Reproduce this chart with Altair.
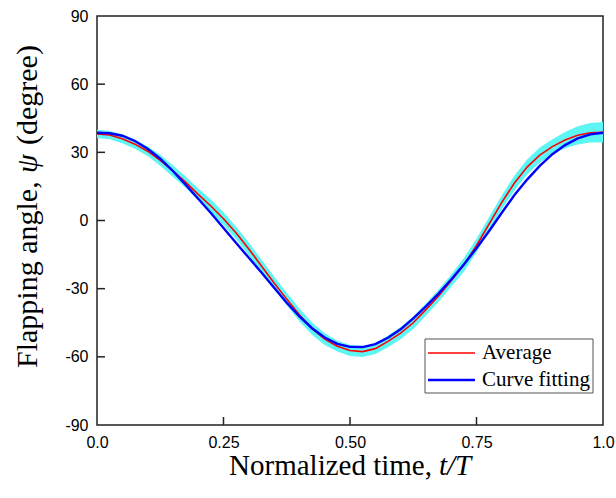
import altair as alt
import pandas as pd

# ---- data ----
T_GRID = [0.0, 0.025, 0.05, 0.075, 0.10, 0.125, 0.15, 0.175, 0.20, 0.225,
          0.25, 0.275, 0.30, 0.325, 0.35, 0.375, 0.40, 0.425, 0.45, 0.475,
          0.50, 0.525, 0.55, 0.575, 0.60, 0.625, 0.65, 0.675, 0.70, 0.725,
          0.75, 0.775, 0.80, 0.825, 0.85, 0.875, 0.90, 0.925, 0.95, 0.975, 1.0]

AVERAGE = [38.1, 37.6, 36.0, 33.6, 30.5, 26.5, 21.8, 16.9, 11.5, 6.4,
           0.8, -5.5, -12.5, -20.0, -27.5, -34.6, -41.5, -47.6, -52.2, -55.3,
           -57.2, -57.7, -56.4, -53.2, -49.6, -45.0, -39.2, -33.2, -26.5, -19.5,
           -11.0, -1.5, 8.0, 16.5, 23.5, 28.8, 32.5, 35.4, 37.5, 38.6, 38.8]

BAND_LOW = [36.3, 35.8, 34.0, 31.6, 28.4, 24.1, 19.3, 14.4, 8.9, 3.6,
            -2.0, -8.3, -15.3, -22.8, -30.3, -37.4, -44.3, -50.3, -54.8, -57.7,
            -59.6, -60.1, -58.8, -55.8, -52.3, -47.7, -41.9, -35.9, -29.2, -22.5,
            -14.0, -4.5, 5.0, 13.2, 20.2, 25.5, 29.2, 31.8, 33.5, 34.3, 34.3]

BAND_HIGH = [39.9, 39.4, 38.0, 35.6, 32.6, 28.9, 24.3, 19.4, 14.1, 9.2,
             3.6, -2.7, -9.7, -17.2, -24.7, -31.8, -38.7, -44.9, -49.6, -52.9,
             -54.8, -55.3, -54.0, -50.6, -46.9, -42.3, -36.5, -30.5, -23.8, -16.5,
             -8.0, 1.5, 11.0, 19.8, 26.8, 32.1, 35.8, 39.0, 41.5, 42.9, 43.3]

FITTING = [38.6, 38.4, 37.3, 35.0, 31.6, 27.2, 21.8, 15.8, 9.6, 3.3,
           -3.3, -9.9, -16.4, -22.9, -29.6, -36.2, -42.2, -47.4, -51.5, -54.3,
           -55.6, -55.7, -54.4, -51.6, -47.9, -43.1, -37.8, -32.2, -26.0, -19.4,
           -12.2, -4.6, 3.4, 11.2, 18.0, 24.0, 29.2, 33.2, 36.1, 37.9, 38.6]

SERIES = ["Average", "Curve fitting"]
SERIES_COLORS = ["#ff0000", "#0000ff"]
BAND_COLOR = "#5ef5f5"

Y_TICKS = [-90, -60, -30, 0, 30, 60, 90]
X_TICKS = [0.0, 0.25, 0.5, 0.75, 1.0]
Y_INNER_TICKS = [-60, -30, 0, 30, 60]
X_INNER_TICKS = [0.25, 0.5, 0.75]

X_TITLE_MAIN = "Normalized time,"
X_TITLE_ITAL = "t/T"
Y_TITLE_A = "Flapping angle,"
Y_TITLE_B = "\u03c8"
Y_TITLE_C = "(degree)"

W, H = 506, 409
SERIF = "Liberation Serif"
SANS = "Liberation Sans"

band_df = pd.DataFrame({"t": T_GRID, "lo": BAND_LOW, "hi": BAND_HIGH})
avg_df = pd.DataFrame({"t": T_GRID, "v": AVERAGE})
fit_df = pd.DataFrame({"t": T_GRID, "v": FITTING})

xscale = alt.Scale(domain=[0, 1], nice=False, zero=False)
yscale = alt.Scale(domain=[-90, 90], nice=False, zero=False)

x_axis = alt.Axis(values=X_TICKS, ticks=False, tickSize=0, domain=False, grid=False,
                  labelFont=SANS, labelFontSize=16, labelColor="#000",
                  labelPadding=9, labelFlush=False, labelOverlap=False,
                  labelExpr="datum.value == 0 ? '0.0' : datum.value == 1 ? '1.0' : format(datum.value, '.2f')",
                  title=None)
y_axis = alt.Axis(values=Y_TICKS, ticks=False, tickSize=0, domain=False, grid=False,
                  labelFont=SANS, labelFontSize=16, labelColor="#000",
                  labelPadding=9, labelFlush=False, labelOverlap=False,
                  labelExpr="'' + datum.value",
                  title=None)

band = alt.Chart(band_df).mark_area(color=BAND_COLOR, opacity=1, clip=True).encode(
    x=alt.X("t:Q", scale=xscale, axis=x_axis),
    y=alt.Y("lo:Q", scale=yscale, axis=y_axis),
    y2="hi:Q",
)

avg_line = alt.Chart(avg_df).mark_line(color=SERIES_COLORS[0], strokeWidth=1.6, clip=True).encode(
    x=alt.X("t:Q", scale=xscale),
    y=alt.Y("v:Q", scale=yscale),
)

fit_line = alt.Chart(fit_df).mark_line(color=SERIES_COLORS[1], strokeWidth=2.4, clip=True).encode(
    x=alt.X("t:Q", scale=xscale),
    y=alt.Y("v:Q", scale=yscale),
)

ytick_layer = alt.Chart(pd.DataFrame({"v": Y_INNER_TICKS})).mark_rule(
    color="#222", strokeWidth=1.5).encode(
    y=alt.Y("v:Q", scale=yscale), x=alt.value(0), x2=alt.value(8))

xtick_layer = alt.Chart(pd.DataFrame({"t": X_INNER_TICKS})).mark_rule(
    color="#222", strokeWidth=1.5).encode(
    x=alt.X("t:Q", scale=xscale), y=alt.value(H), y2=alt.value(H - 8))


def label(txt, **kw):
    return alt.Chart(pd.DataFrame({"s": [txt]})).mark_text(
        font=SERIF, color="#000", **kw).encode(text="s:N")


def one_row():
    return alt.Chart(pd.DataFrame({"k": [0]}))


# axis titles (mixed upright / italic)
xt1 = label(X_TITLE_MAIN, fontSize=29, align="right", baseline="alphabetic").encode(
    x=alt.value(335), y=alt.value(459))
xt2 = label(X_TITLE_ITAL, fontSize=29, align="left", baseline="alphabetic",
            fontStyle="italic").encode(x=alt.value(342), y=alt.value(459))

yt1 = label(Y_TITLE_A, fontSize=30, align="left", baseline="alphabetic", angle=270).encode(
    x=alt.value(-60), y=alt.value(352))
yt2 = label(Y_TITLE_B, fontSize=30, align="left", baseline="alphabetic", angle=270,
            fontStyle="italic").encode(x=alt.value(-60), y=alt.value(157))
yt3 = label(Y_TITLE_C, fontSize=30, align="left", baseline="alphabetic", angle=270).encode(
    x=alt.value(-60), y=alt.value(129))

# legend box drawn in the plot area
leg_box = one_row().mark_rect(fill="#fff", stroke="#555", strokeWidth=1).encode(
    x=alt.value(328), x2=alt.value(496), y=alt.value(323), y2=alt.value(377))
leg_r = one_row().mark_rule(color=SERIES_COLORS[0], strokeWidth=1.6).encode(
    x=alt.value(331), x2=alt.value(378), y=alt.value(337))
leg_b = one_row().mark_rule(color=SERIES_COLORS[1], strokeWidth=2.4).encode(
    x=alt.value(331), x2=alt.value(378), y=alt.value(364))
leg_t1 = label(SERIES[0], fontSize=21, align="left", baseline="middle").encode(
    x=alt.value(385), y=alt.value(337))
leg_t2 = label(SERIES[1], fontSize=21, align="left", baseline="middle").encode(
    x=alt.value(385), y=alt.value(364))

chart = alt.layer(band, avg_line, fit_line, ytick_layer, xtick_layer,
                  xt1, xt2, yt1, yt2, yt3,
                  leg_box, leg_r, leg_b, leg_t1, leg_t2).properties(
    width=W, height=H,
    autosize=alt.AutoSizeParams(type="none"),
    padding={"left": 97, "top": 16, "right": 13, "bottom": 73},
    background="white",
).configure_view(stroke="#222", strokeWidth=1.5)

chart.save("out.html", embed_options={"renderer": "svg", "actions": False})
